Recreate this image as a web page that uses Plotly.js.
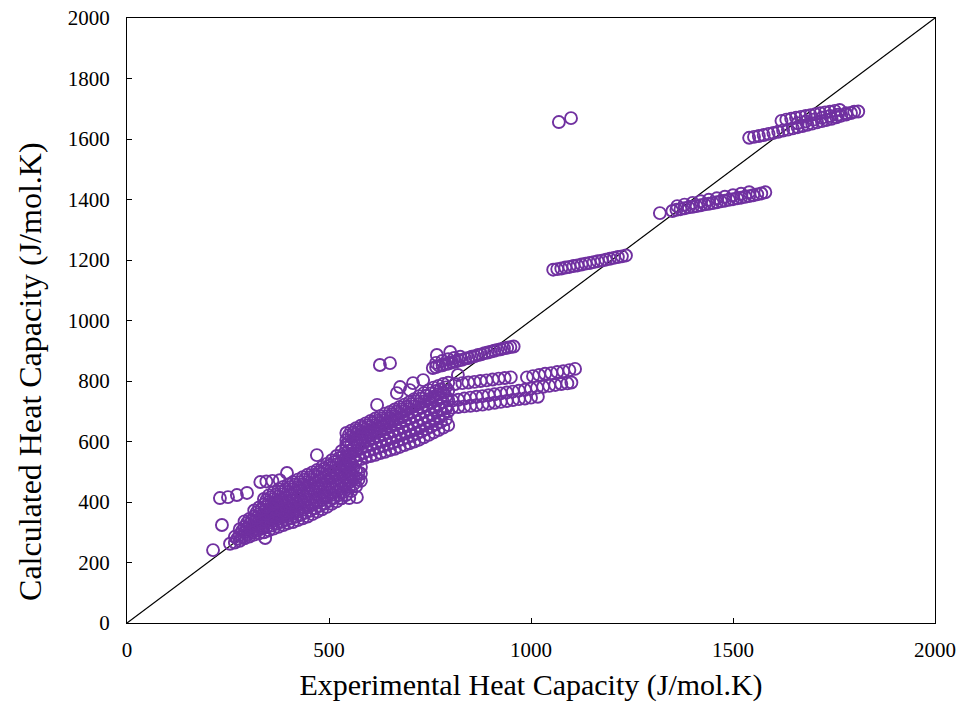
<!DOCTYPE html>
<html>
<head>
<meta charset="utf-8">
<script src="https://cdn.plot.ly/plotly-3.0.1.min.js"></script>
<style>html,body{margin:0;padding:0;background:#fff;}#chart{width:962px;height:708px;}</style>
</head>
<body>
<div id="chart"></div>
<script>
// ---- Data ----
const tickValsX = [0, 500, 1000, 1500, 2000];
const tickValsY = [0, 200, 400, 600, 800, 1000, 1200, 1400, 1600, 1800, 2000];
const parityX = [0, 2000];
const parityY = [0, 2000];

// isolated points
const outlierX = [213, 235, 230, 250, 272, 297, 342, 330, 345, 360, 378, 396, 470, 510, 530, 550, 569, 488, 626, 651, 767, 800, 1069, 1099, 1319, 708, 733, 668, 619, 819, 676, 700];
const outlierY = [241, 324, 413, 416, 423, 430, 281, 466, 468, 470, 472, 496, 555, 413, 413, 413, 416, 420, 853, 859, 886, 896, 1656, 1669, 1355, 793, 803, 760, 721, 820, 780, 770];

// dense lower block strands
const lowAX = [255,267,279,291,303,315,327,339,351,363,375,387,399,411,423,435,447,459,471,483,495,507,519,531,543,555,567,579];
const lowAY = [262,266,272,280,286,292,296,300,306,312,318,324,330,334,340,346,352,360,368,376,384,394,402,412,424,436,452,470];
const lowBX = [267,279,291,303,315,327,339,351,363,375,387,399,411,423,435,447,459,471,483,495,507,519,531,543,555,567,579];
const lowBY = [285,292,300,306,312,320,326,332,338,344,350,356,362,368,374,382,390,398,406,414,424,434,444,456,468,480,494];
const lowCX = [279,291,303,315,327,339,351,363,375,387,399,411,423,435,447,459,471,483,495,507,519,531,543,555,567,579];
const lowCY = [310,318,326,334,342,348,356,362,368,374,380,388,394,400,408,416,424,432,440,448,458,468,480,492,504,516];
const lowDX = [291,303,315,327,339,351,363,375,387,399,411,423,435,447,459,471,483,495,507,519,531,543,555,567];
const lowDY = [336,344,352,360,368,376,384,390,398,404,412,420,428,436,444,452,460,470,480,490,500,512,524,536];
const lowEX = [315,327,339,351,363,375,387,399,411,423,435,447,459,471,483,495,507,519,531,543,555];
const lowEY = [372,382,392,400,410,418,426,434,442,450,458,466,474,484,494,504,514,524,536,548,560];
const lowFX = [339,351,363,375,387,399,411,423,435,447,459,471,483,495,507,519,531,543];
const lowFY = [410,422,432,442,450,458,466,474,482,490,498,506,516,526,538,552,568,590];
// in-between rows of the lower block
const lowABX = [273,285,297,309,321,333,345,357,369,381,393,405,417,429,441,453,465,477,489,501,513,525,537,549,561,573];
const lowABY = [279,286,293,299,305,311,316,322,328,334,340,346,351,357,364,371,379,387,395,404,414,423,434,446,459,474];
const lowBCX = [285,297,309,321,333,345,357,369,381,393,405,417,429,441,453,465,477,489,501,513,525,537,549,561,573];
const lowBCY = [305,312,320,327,334,340,347,353,359,365,372,378,384,391,399,407,415,423,431,441,451,462,474,486,498];
const lowCDX = [297,309,321,333,345,357,369,381,393,405,417,429,441,453,465,477,489,501,513,525,537,549,561];
const lowCDY = [331,339,347,354,362,369,376,382,389,396,403,410,418,426,434,442,450,459,469,479,490,502,514];
const lowDEX = [321,333,345,357,369,381,393,405,417,429,441,453,465,477,489,501,513,525,537,549];
const lowDEY = [366,375,384,392,400,408,415,423,431,439,447,455,463,472,482,492,502,512,524,536];
const lowEFX = [345,357,369,381,393,405,417,429,441,453,465,477,489,501,513,525,537];
const lowEFY = [406,416,425,434,442,450,458,466,474,482,490,500,510,520,532,545,560];

// dense upper block strands
const upX = [543,555,567,579,591,603,615,627,639,651,663,675,687,699,711,723,735,747,759,771,783,795];
const upAY = [520,528,536,542,548,552,556,562,566,572,576,582,588,594,600,606,614,622,630,638,646,654];
const upBY = [550,560,568,576,584,590,596,602,608,614,620,626,632,638,644,652,660,668,676,684,692,700];
const upCY = [580,590,598,606,614,620,628,634,640,648,654,660,668,676,682,690,698,706,714,722,730,736];
const upDY = [605,615,624,632,640,648,654,662,670,676,684,692,700,708,716,724,732,740,748,756,762,768];
const upEY = [628,636,644,652,660,668,676,684,692,698,706,714,722,730,740,750,760,770,778,784,790,794];
// in-between rows of the upper block
const upMidX = [549,561,573,585,597,609,621,633,645,657,669,681,693,705,717,729,741,753,765,777,789];
const upABY = [540,548,556,562,569,574,579,585,590,596,601,607,613,619,626,633,641,649,657,665,673];
const upBCY = [570,579,587,595,602,609,615,621,628,634,640,647,654,660,667,675,683,691,699,707,715];
const upCDY = [598,607,615,623,631,638,645,652,659,666,673,680,688,696,703,711,719,727,735,743,749];
const upDEY = [621,630,638,646,654,662,669,677,684,691,699,707,715,724,733,742,751,759,767,773,779];

// strands running right of the dense block
const strandAX = [812,830,845,860,875,890,905,920,935,950,990,1005,1020,1035,1050,1065,1080,1095,1109];
const strandAY = [790,793,795,797,800,802,805,808,810,812,812,816,820,824,826,830,832,836,840];
const strandBX = [805,820,835,850,865,880,895,910,925,940,955,970,985,1000,1015,1030,1045,1060,1075,1090,1100];
const strandBY = [735,738,742,745,748,750,753,756,759,762,765,768,771,775,778,781,784,787,790,792,795];
const strandCX = [760,775,790,805,820,835,850,865,880,895,910,925,940,955,970,985,1000,1017];
const strandCY = [705,708,710,712,714,716,718,720,722,725,728,731,734,737,740,742,745,748];

// band near 900
const band900X = [757,765,773,781,789,797,805,813,821,829,837,845,853,861,869,877,885,893,901,909,917,925,933,941,949,957,765,780,795,810,825];
const band900Y = [843,846,850,852,856,858,862,864,868,870,874,876,880,882,886,888,892,894,897,900,903,905,908,910,912,914,860,866,872,876,880];

// band near 1200
const band1200X = [1055,1065,1075,1085,1095,1105,1115,1125,1135,1145,1155,1165,1175,1185,1195,1205,1215,1225,1235];
const band1200Y = [1168,1170,1172,1175,1177,1180,1182,1185,1188,1190,1193,1196,1198,1201,1204,1207,1210,1212,1215];

// band near 1400
const band1400X = [1350,1360,1370,1380,1390,1400,1410,1420,1430,1440,1450,1460,1470,1480,1490,1500,1510,1520,1530,1540,1550,1560,1570,1580,1362,1380,1400,1420,1440,1460,1480,1500,1520,1540];
const band1400Y = [1362,1366,1368,1371,1374,1376,1378,1381,1384,1386,1388,1391,1394,1396,1399,1401,1404,1406,1409,1411,1414,1417,1420,1424,1378,1383,1389,1394,1399,1404,1409,1414,1419,1424];

// bands near 1600-1700
const bandTopLowX = [1540,1552,1564,1576,1588,1600,1612,1624,1636,1648,1660,1672,1684,1696,1708,1720,1732,1744,1756,1768,1780,1792,1810];
const bandTopLowY = [1604,1607,1610,1613,1617,1620,1624,1628,1631,1635,1639,1643,1647,1651,1655,1659,1663,1667,1672,1677,1681,1686,1691];
const bandTopHighX = [1620,1632,1644,1656,1668,1680,1692,1704,1716,1728,1740,1752,1764,1660,1680,1700,1720,1740,1760,1780,1800];
const bandTopHighY = [1660,1664,1667,1670,1673,1676,1679,1682,1685,1688,1690,1693,1696,1652,1658,1664,1670,1676,1680,1685,1690];

// ---- build traces ----
function cat(...arrs){ return [].concat(...arrs); }
const allX = cat(outlierX, lowAX, lowBX, lowCX, lowDX, lowEX, lowFX,
  lowABX, lowBCX, lowCDX, lowDEX, lowEFX,
  upX, upX, upX, upX, upX, upMidX, upMidX, upMidX, upMidX,
  strandAX, strandBX, strandCX, band900X, band1200X, band1400X, bandTopLowX, bandTopHighX);
const allY = cat(outlierY, lowAY, lowBY, lowCY, lowDY, lowEY, lowFY,
  lowABY, lowBCY, lowCDY, lowDEY, lowEFY,
  upAY, upBY, upCY, upDY, upEY, upABY, upBCY, upCDY, upDEY,
  strandAY, strandBY, strandCY, band900Y, band1200Y, band1400Y, bandTopLowY, bandTopHighY);

const purple = '#7030A0';
const data = [
  {x: parityX, y: parityY, type: 'scatter', mode: 'lines',
   line: {color: '#000000', width: 1.2}, hoverinfo: 'skip', showlegend: false},
  {x: allX, y: allY, type: 'scatter', mode: 'markers',
   marker: {symbol: 'circle-open', size: 12, color: purple, line: {color: purple, width: 1.9}},
   showlegend: false}
];

const fontFam = '"Liberation Serif", "Times New Roman", serif';
const axisCommon = {
  showgrid: false, zeroline: false, showline: true, mirror: true,
  linecolor: '#000', linewidth: 1, ticks: 'inside', ticklen: 5, tickwidth: 1, tickcolor: '#000',
  tickfont: {family: fontFam, size: 21, color: '#000'}
};
const layout = {
  width: 962, height: 708,
  margin: {l: 127, r: 27, t: 18, b: 85},
  paper_bgcolor: '#fff', plot_bgcolor: '#fff',
  showlegend: false,
  xaxis: Object.assign({}, axisCommon, {
    range: [0, 2000], tickvals: tickValsX, ticktext: tickValsX.map(String),
    ticklabelstandoff: 8,
    title: {text: 'Experimental Heat Capacity (J/mol.K)', font: {family: fontFam, size: 30, color: '#000'}, standoff: 12}
  }),
  yaxis: Object.assign({}, axisCommon, {
    range: [0, 2000], tickvals: tickValsY, ticktext: tickValsY.map(String),
    ticklabelstandoff: 12
  }),
  annotations: [{
    text: 'Calculated Heat Capacity (J/mol.K)', textangle: -90,
    xref: 'paper', yref: 'paper', x: -0.12, y: 0.415, xanchor: 'center', yanchor: 'middle',
    showarrow: false, font: {family: fontFam, size: 32, color: '#000'}
  }]
};
Plotly.newPlot('chart', data, layout, {displayModeBar: false, staticPlot: true});
</script>
</body>
</html>
